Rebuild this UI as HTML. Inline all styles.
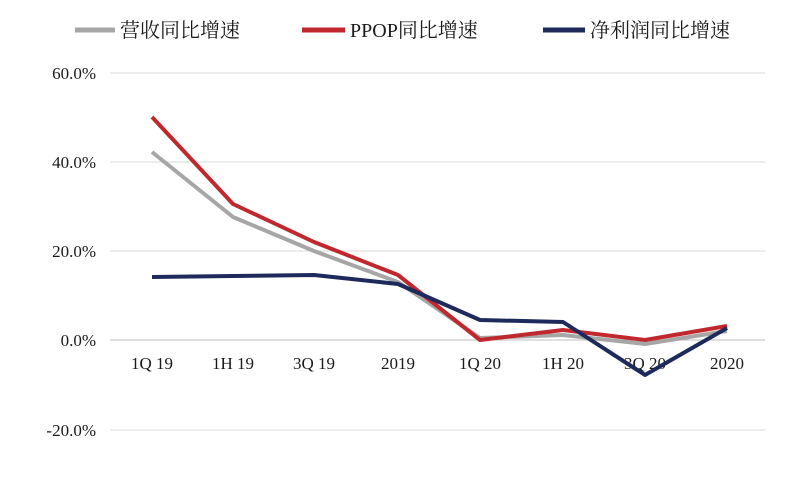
<!DOCTYPE html>
<html><head><meta charset="utf-8"><style>
body{margin:0;background:#fff;}
svg text{font-family:"Liberation Serif","Noto Serif CJK SC",serif;fill:#1a1a1a;}
</style></head><body>
<svg width="800" height="472" viewBox="0 0 800 472" xmlns="http://www.w3.org/2000/svg">
<g stroke="#d9d9d9" stroke-width="1">
<line x1="110" y1="73" x2="765" y2="73"/>
<line x1="110" y1="162" x2="765" y2="162"/>
<line x1="110" y1="251" x2="765" y2="251"/>
<line x1="110" y1="430" x2="765" y2="430"/>
</g>
<line x1="110" y1="340" x2="765" y2="340" stroke="#bfbfbf" stroke-width="1"/>
<g font-size="17" text-anchor="end">
<text x="96" y="79">60.0%</text>
<text x="96" y="168">40.0%</text>
<text x="96" y="257">20.0%</text>
<text x="96" y="346">0.0%</text>
<text x="96" y="436">-20.0%</text>
</g>
<g font-size="17" text-anchor="middle">
<text x="152" y="369">1Q 19</text>
<text x="233" y="369">1H 19</text>
<text x="314" y="369">3Q 19</text>
<text x="398" y="369">2019</text>
<text x="480" y="369">1Q 20</text>
<text x="563" y="369">1H 20</text>
<text x="645" y="369">3Q 20</text>
<text x="727" y="369">2020</text>
</g>
<g fill="none" stroke-width="4" stroke-linejoin="round">
<polyline stroke="#a6a6a6" points="152,152 233,217 314,251 398,282 480,338 563,335 645,344 727,331"/>
<polyline stroke="#c0282d" points="152,117 233,204 314,242 398,275 480,340 563,330 645,340 727,326"/>
<polyline stroke="#1f2a5c" points="152,277 233,276 314,275 398,284 480,320 563,322 645,375 727,328"/>
</g>
<g stroke-width="5">
<line x1="75" y1="30" x2="115" y2="30" stroke="#a6a6a6"/>
<line x1="302" y1="30" x2="345" y2="30" stroke="#c0282d"/>
<line x1="543" y1="30" x2="585" y2="30" stroke="#1f2a5c"/>
</g>
<g font-size="20">
<text x="120" y="37">营收同比增速</text>
<text x="350" y="37">PPOP同比增速</text>
<text x="590" y="37">净利润同比增速</text>
</g>
</svg>
</body></html>
